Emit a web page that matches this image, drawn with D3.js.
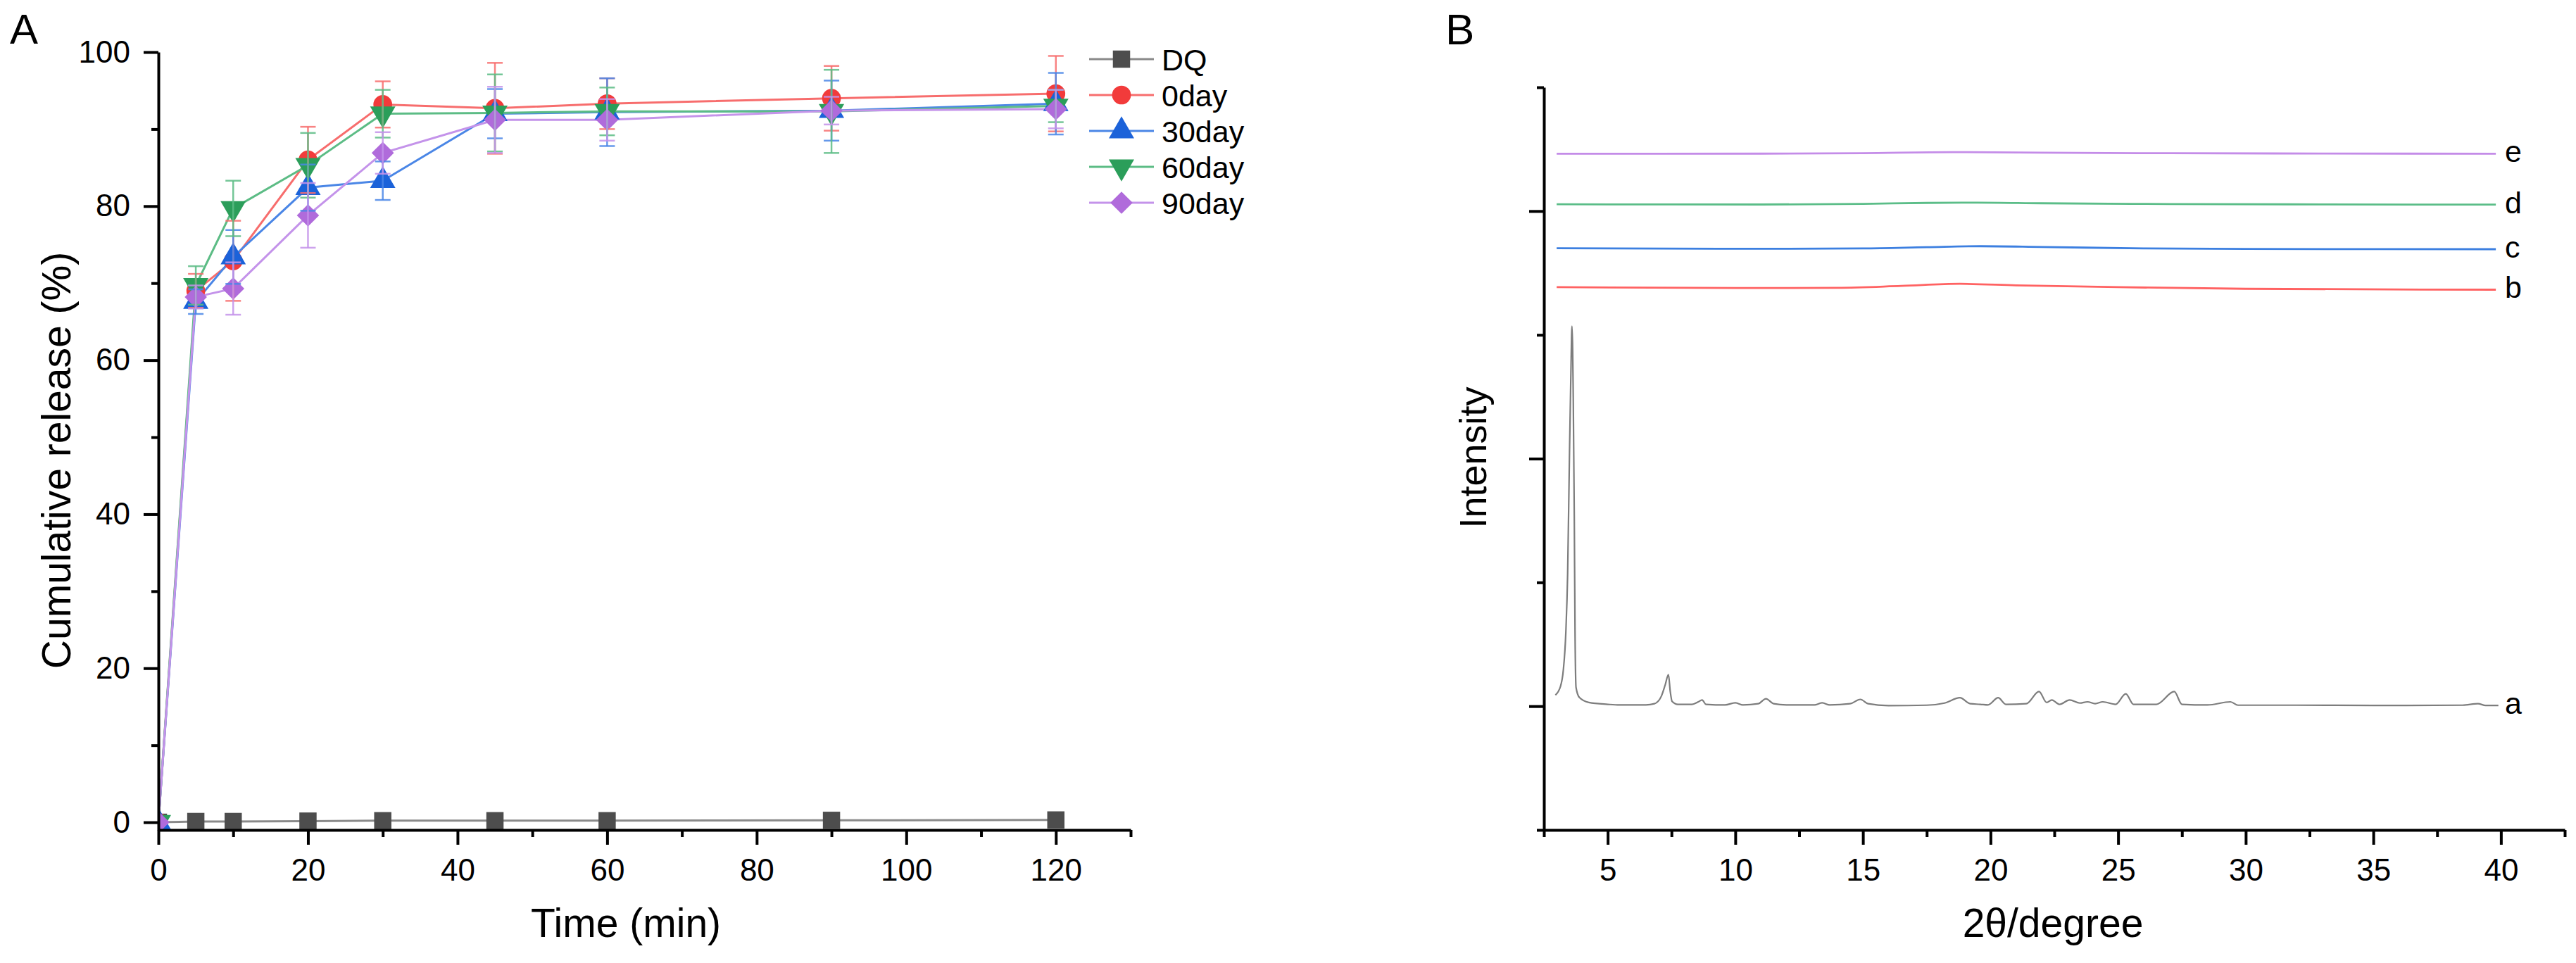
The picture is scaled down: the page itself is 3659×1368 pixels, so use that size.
<!DOCTYPE html>
<html>
<head>
<meta charset="utf-8">
<script src="https://cdn.jsdelivr.net/npm/d3@7"></script>
<style>
  body { margin: 0; background: #fff; }
  svg { display: block; }
</style>
</head>
<body>
<svg id="chart" width="3659" height="1368"></svg>
<script>
// ---------- data: panel A (cumulative release) ----------
const times = [0, 5, 10, 20, 30, 45, 60, 90, 120];
const seriesNames = ['DQ', '0day', '30day', '60day', '90day'];

const dqRelease    = [0, 0.1, 0.1, 0.15, 0.2, 0.2, 0.2, 0.25, 0.3];
const dqSd         = [0, 0.1, 0.1, 0.1, 0.1, 0.1, 0.1, 0.1, 0.1];
const day0Release  = [0, 69.0, 72.9, 86.0, 93.2, 92.7, 93.3, 94.0, 94.6];
const day0Sd       = [0, 2.2, 5.2, 4.3, 3.0, 5.9, 3.3, 4.2, 4.9];
const day30Release = [0, 67.6, 73.4, 82.4, 83.3, 92.0, 92.2, 92.4, 93.3];
const day30Sd      = [0, 1.6, 3.5, 3.0, 2.5, 3.2, 4.4, 3.9, 4.0];
const day60Release = [0, 69.7, 79.7, 85.3, 92.0, 92.1, 92.3, 92.3, 93.0];
const day60Sd      = [0, 2.5, 3.6, 4.2, 3.1, 5.0, 3.1, 5.4, 2.1];
const day90Release = [0, 68.2, 69.3, 78.8, 86.9, 91.2, 91.2, 92.4, 92.6];
const day90Sd      = [0, 1.5, 3.4, 4.2, 2.7, 4.3, 2.7, 1.8, 2.5];

const xTicksA = [0, 20, 40, 60, 80, 100, 120];
const xMinorA = [10, 30, 50, 70, 90, 110, 130];
const yTicksA = [0, 20, 40, 60, 80, 100];
const yMinorA = [10, 30, 50, 70, 90];

// ---------- data: panel B (XRD patterns, [2theta, intensity]) ----------
const patternA = [
  [2.95, 0.09], [3.15, 0.16], [3.26, 0.29], [3.36, 0.60], [3.43, 1.07], [3.50, 2.01],
  [3.56, 2.72], [3.60, 3.07], [3.65, 2.49], [3.69, 1.54], [3.72, 0.60], [3.76, 0.15],
  [3.89, 0.07], [4.26, 0.03], [5.0, 0.015], [5.45, 0.01], [6.5, 0.01], [6.83, 0.02],
  [7.1, 0.08], [7.25, 0.17], [7.38, 0.255], [7.45, 0.12], [7.52, 0.04], [7.75, 0.015],
  [8.3, 0.015], [8.55, 0.035], [8.70, 0.05], [8.85, 0.015], [9.6, 0.01], [10.0, 0.027],
  [10.3, 0.01], [10.9, 0.02], [11.2, 0.06], [11.5, 0.02], [12.0, 0.01], [13.1, 0.01],
  [13.4, 0.027], [13.7, 0.01], [14.5, 0.02], [14.9, 0.055], [15.2, 0.02], [16.0, 0.005],
  [17.5, 0.008], [18.2, 0.025], [18.8, 0.068], [19.2, 0.02], [19.6, 0.015], [19.9, 0.01],
  [20.3, 0.068], [20.6, 0.015], [21.4, 0.02], [21.9, 0.118], [22.2, 0.03], [22.4, 0.05],
  [22.7, 0.015], [23.1, 0.05], [23.5, 0.025], [23.8, 0.035], [24.1, 0.02], [24.4, 0.035],
  [24.9, 0.015], [25.3, 0.10], [25.6, 0.015], [26.5, 0.015], [27.2, 0.118], [27.5, 0.015],
  [28.5, 0.01], [29.4, 0.035], [29.7, 0.008], [32.0, 0.008], [35.0, 0.006], [38.5, 0.008],
  [39.1, 0.02], [39.4, 0.006], [39.9, 0.006]
];
const patternB = [[3.0, 3.385], [11, 3.378], [14, 3.38], [16.5, 3.395], [18.8, 3.412],
  [21, 3.40], [25, 3.385], [30, 3.372], [39.8, 3.365]];
const patternC = [[3.0, 3.70], [11, 3.695], [15, 3.698], [17.5, 3.708], [19.6, 3.716],
  [22, 3.71], [26, 3.698], [30, 3.694], [39.8, 3.692]];
const patternD = [[3.0, 4.055], [11, 4.053], [15, 4.058], [17.5, 4.066], [19.5, 4.068],
  [22, 4.063], [27, 4.057], [33, 4.054], [39.8, 4.052]];
const patternE = [[3.0, 4.463], [11, 4.464], [15, 4.468], [18.5, 4.476], [22, 4.472],
  [27, 4.467], [33, 4.465], [39.8, 4.463]];
const patternLabels = ['a', 'b', 'c', 'd', 'e'];

const xTicksB = [5, 10, 15, 20, 25, 30, 35, 40];
const xMinorB = [2.5, 7.5, 12.5, 17.5, 22.5, 27.5, 32.5, 37.5, 42.5];
const yTicksB = [0, 2, 4];
const yMinorB = [-1, 1, 3, 5];

// ---------- styles ----------
const FONT = '"Liberation Sans", Arial, sans-serif';
const markerColors = { 'DQ': '#4d4d4d', '0day': '#f23b3b', '30day': '#1b62d9', '60day': '#2b9e5a', '90day': '#b06bdb' };
const lineColors   = { 'DQ': '#8a8a8a', '0day': '#f76d6d', '30day': '#4a86e6', '60day': '#5cbc85', '90day': '#c493ea' };
const markerShapes = { 'DQ': d3.symbolSquare, '0day': d3.symbolCircle, '30day': d3.symbolTriangle, '60day': d3.symbolTriangle, '90day': d3.symbolSquare };
const markerSizes  = { 'DQ': 600, '0day': 560, '30day': 560, '60day': 560, '90day': 500 };
const markerRotate = { 'DQ': 0, '0day': 0, '30day': 0, '60day': 180, '90day': 45 };
const patternColors = ['#7d7d7d', '#ff6262', '#3c7fe0', '#5bbd88', '#c48ce8'];

const releaseData = [dqRelease, day0Release, day30Release, day60Release, day90Release];
const sdData = [dqSd, day0Sd, day30Sd, day60Sd, day90Sd];
const patterns = [patternA, patternB, patternC, patternD, patternE];

const svg = d3.select('#chart');
svg.append('rect').attr('width', 3659).attr('height', 1368).attr('fill', '#fff');

// axis helper: minor ticks first, then major ticks with labels
function drawAxis(g, axisMaker, scale, major, minor, majorLen, minorLen, pad, fmt) {
  g.append('g').call(axisMaker(scale).tickValues(minor).tickSize(minorLen).tickSizeOuter(0).tickFormat(''))
    .call(s => s.select('.domain').remove());
  const main = g.append('g').call(axisMaker(scale).tickValues(major).tickSize(majorLen)
    .tickSizeOuter(0).tickPadding(pad).tickFormat(fmt));
  g.selectAll('.domain').attr('stroke', '#000').attr('stroke-width', 4);
  g.selectAll('.tick line').attr('stroke', '#000').attr('stroke-width', 4);
  main.attr('font-family', FONT).attr('font-size', 44);
  main.selectAll('.tick text').attr('fill', '#000');
}

// ================= Panel A =================
const xA = d3.scaleLinear().domain([0, 130]).range([225, 1606]);
const yA = d3.scaleLinear().domain([-1, 100]).range([1179, 74]);

svg.append('clipPath').attr('id', 'clipA')
  .append('rect').attr('x', 225).attr('y', 40).attr('width', 1381).attr('height', 1139);

const plotA = svg.append('g').attr('clip-path', 'url(#clipA)');

const lineA = d3.line().x(d => xA(d[0])).y(d => yA(d[1]));

// lines
seriesNames.forEach((name, i) => {
  const pts = times.map((t, j) => [t, releaseData[i][j]]);
  plotA.append('path')
    .attr('d', lineA(pts))
    .attr('fill', 'none')
    .attr('stroke', lineColors[name])
    .attr('stroke-width', 3);
});

// markers
seriesNames.forEach((name, i) => {
  const sym = d3.symbol().type(markerShapes[name]).size(markerSizes[name]);
  plotA.append('g').selectAll('path')
    .data(times.map((t, j) => [t, releaseData[i][j]]))
    .join('path')
    .attr('d', sym)
    .attr('transform', d => `translate(${xA(d[0])},${yA(d[1])}) rotate(${markerRotate[name]})`)
    .attr('fill', markerColors[name]);
});

// error bars
seriesNames.forEach((name, i) => {
  const g = plotA.append('g')
    .attr('stroke', lineColors[name])
    .attr('stroke-width', 2.5)
    .attr('stroke-opacity', 0.85);
  times.forEach((t, j) => {
    const v = releaseData[i][j], sd = sdData[i][j];
    if (!sd || name === 'DQ') return;
    const x = xA(t);
    g.append('line').attr('x1', x).attr('x2', x).attr('y1', yA(v - sd)).attr('y2', yA(v + sd));
    [v - sd, v + sd].forEach(e => {
      g.append('line').attr('x1', x - 11).attr('x2', x + 11).attr('y1', yA(e)).attr('y2', yA(e));
    });
  });
});

// axes A
drawAxis(svg.append('g').attr('transform', 'translate(0,1179)'), d3.axisBottom, xA,
  xTicksA, xMinorA, 21, 10, 20, d3.format('d'));
drawAxis(svg.append('g').attr('transform', 'translate(225,0)'), d3.axisLeft, yA,
  yTicksA, yMinorA, 21, 10, 19, d3.format('d'));

svg.append('text').attr('x', 889).attr('y', 1331).attr('text-anchor', 'middle')
  .attr('font-family', FONT).attr('font-size', 57).text('Time (min)');
svg.append('text').attr('transform', 'translate(100,654) rotate(-90)').attr('text-anchor', 'middle')
  .attr('font-family', FONT).attr('font-size', 57).text('Cumulative release (%)');
svg.append('text').attr('x', 14).attr('y', 62)
  .attr('font-family', FONT).attr('font-size', 60).text('A');

// legend A
const legend = svg.append('g').attr('transform', 'translate(1547,84)');
seriesNames.forEach((name, i) => {
  const row = legend.append('g').attr('transform', `translate(0,${i * 51})`);
  row.append('line').attr('x1', 0).attr('x2', 92).attr('y1', 0).attr('y2', 0)
    .attr('stroke', lineColors[name]).attr('stroke-width', 3);
  row.append('path')
    .attr('d', d3.symbol().type(markerShapes[name]).size(markerSizes[name])())
    .attr('transform', `translate(46,0) rotate(${markerRotate[name]})`)
    .attr('fill', markerColors[name]);
  row.append('text').attr('x', 103).attr('y', 16)
    .attr('font-family', FONT).attr('font-size', 43).text(name);
});

// ================= Panel B =================
const xB = d3.scaleLinear().domain([2.5, 42.5]).range([2193, 3643]);
const yB = d3.scaleLinear().domain([-1, 5]).range([1179, 124]);

const lineB = d3.line().x(d => xB(d[0])).y(d => yB(d[1])).curve(d3.curveMonotoneX);

patterns.forEach((pts, i) => {
  svg.append('path')
    .attr('d', lineB(pts))
    .attr('fill', 'none')
    .attr('stroke', patternColors[i])
    .attr('stroke-width', i === 0 ? 2.2 : 2.8)
    .attr('stroke-linejoin', 'round');
  const last = pts[pts.length - 1];
  svg.append('text')
    .attr('x', 3558)
    .attr('y', yB(last[1]) + 12)
    .attr('font-family', FONT).attr('font-size', 43)
    .text(patternLabels[i]);
});

drawAxis(svg.append('g').attr('transform', 'translate(0,1179)'), d3.axisBottom, xB,
  xTicksB, xMinorB, 21, 10, 20, d3.format('d'));
drawAxis(svg.append('g').attr('transform', 'translate(2193,0)'), d3.axisLeft, yB,
  yTicksB, yMinorB, 21, 10, 10, () => '');

svg.append('text').attr('x', 2916).attr('y', 1331).attr('text-anchor', 'middle')
  .attr('font-family', FONT).attr('font-size', 57).text('2θ/degree');
svg.append('text').attr('transform', 'translate(2111,650) rotate(-90)').attr('text-anchor', 'middle')
  .attr('font-family', FONT).attr('font-size', 54).text('Intensity');
svg.append('text').attr('x', 2053).attr('y', 63)
  .attr('font-family', FONT).attr('font-size', 62).text('B');
</script>
</body>
</html>
